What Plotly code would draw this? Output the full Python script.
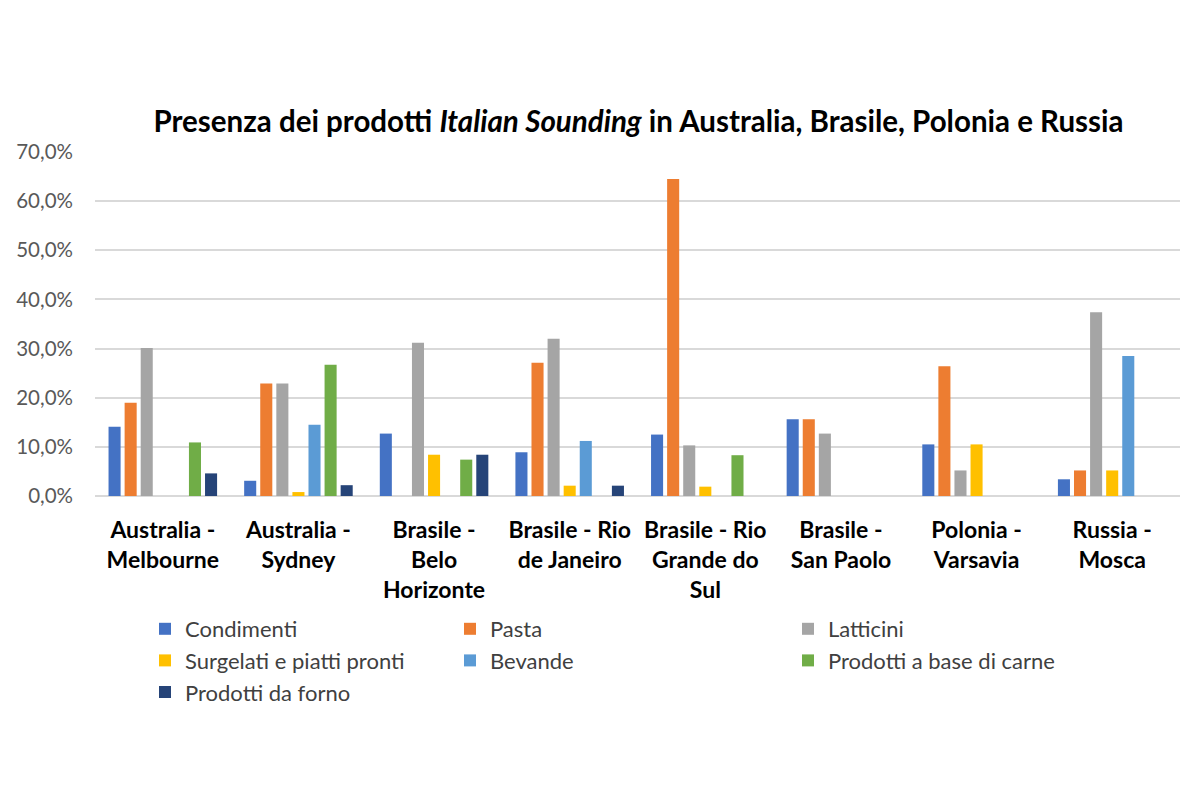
import plotly.graph_objects as go

categories = ["Australia -<br>Melbourne", "Australia -<br>Sydney", "Brasile -<br>Belo<br>Horizonte",
              "Brasile - Rio<br>de Janeiro", "Brasile - Rio<br>Grande do<br>Sul", "Brasile -<br>San Paolo",
              "Polonia -<br>Varsavia", "Russia -<br>Mosca"]

condimenti = [0.141, 0.031, 0.127, 0.089, 0.125, 0.156, 0.105, 0.034]
pasta      = [0.190, 0.229, 0.0,   0.271, 0.645, 0.156, 0.264, 0.052]
latticini  = [0.301, 0.229, 0.312, 0.320, 0.103, 0.127, 0.052, 0.374]
surgelati  = [0.0,   0.008, 0.084, 0.021, 0.019, 0.0,   0.105, 0.052]
bevande    = [0.0,   0.145, 0.0,   0.112, 0.0,   0.0,   0.0,   0.285]
carne      = [0.109, 0.267, 0.074, 0.0,   0.083, 0.0,   0.0,   0.0]
forno      = [0.046, 0.022, 0.084, 0.021, 0.0,   0.0,   0.0,   0.0]

series = [
    ("Condimenti", condimenti, "#4472C4", "legend"),
    ("Pasta", pasta, "#ED7D31", "legend2"),
    ("Latticini", latticini, "#A5A5A5", "legend3"),
    ("Surgelati e piatti pronti", surgelati, "#FFC000", "legend"),
    ("Bevande", bevande, "#5B9BD5", "legend2"),
    ("Prodotti a base di carne", carne, "#70AD47", "legend3"),
    ("Prodotti da forno", forno, "#264478", "legend"),
]

FONT = "Lato"
fig = go.Figure()
for name, vals, col, lg in series:
    fig.add_trace(go.Bar(name=name, x=categories, y=vals, marker_color=col,
                         marker_line_width=0, legend=lg))

leg_common = dict(orientation="v", bgcolor="rgba(0,0,0,0)", font=dict(family=FONT, size=22, color="#404040"),
                  xanchor="left", yanchor="top", yref="container", xref="container",
                  itemsizing="constant", tracegroupgap=0, traceorder="normal")

fig.update_layout(
    width=1200, height=800,
    paper_bgcolor="white", plot_bgcolor="white",
    margin=dict(l=87, r=28, t=144, b=312, autoexpand=False),
    separators=",.",
    title=dict(text="<b>Presenza dei prodotti <i>Italian Sounding</i> in Australia, Brasile, Polonia e Russia</b>",
               x=630.5 / 1200, xanchor="center", y=1 - 114 / 800, yanchor="middle",
               font=dict(family=FONT, size=29.5, color="black")),
    barmode="group", bargap=0.17, bargroupgap=0.25,
    legend=dict(**leg_common, x=137 / 1200, y=1 - 600 / 800),
    legend2=dict(**leg_common, x=442 / 1200, y=1 - 600 / 800),
    legend3=dict(**leg_common, x=780 / 1200, y=1 - 600 / 800),
    showlegend=True,
)
fig.update_yaxes(range=[0, 0.7], dtick=0.1, tickformat=".1%", showgrid=True, gridcolor="#D9D9D9",
                 gridwidth=1.5, zeroline=True, zerolinecolor="#D9D9D9", zerolinewidth=1.5,
                 tickfont=dict(family=FONT, size=20.5, color="#595959"), ticks="", ticklabelstandoff=21)
fig.update_xaxes(showline=False, tickangle=0, tickfont=dict(family=FONT, size=23, color="black"),
                 ticklabelstandoff=18, tickprefix="<b>", ticksuffix="</b>")

fig.write_html("out.html")
